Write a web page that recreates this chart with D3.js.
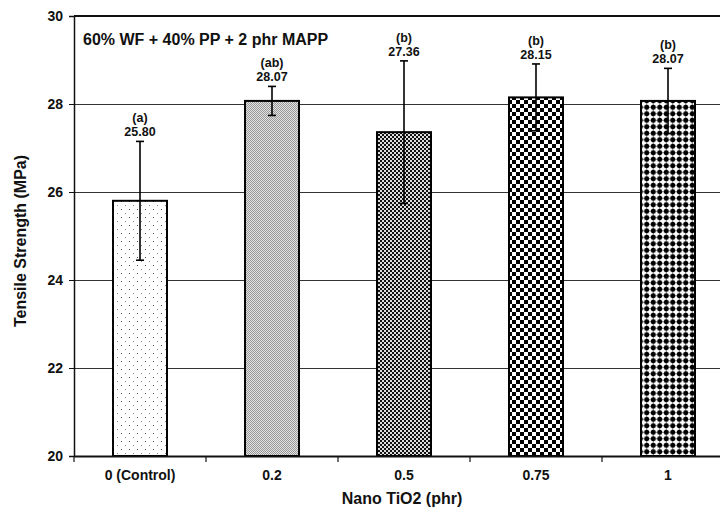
<!DOCTYPE html>
<html>
<head>
<meta charset="utf-8">
<script src="https://cdn.jsdelivr.net/npm/d3@7.9.0/dist/d3.min.js"></script>
<style>
  body { margin: 0; background: #fff; }
  text { font-family: "Liberation Sans", Arial, sans-serif; font-weight: bold; fill: #111; }
</style>
</head>
<body>
<div id="vis"></div>
<script>
const width = 720, height = 510;

const categories = ["0 (Control)", "0.2", "0.5", "0.75", "1"];
const means = [25.80, 28.07, 27.36, 28.15, 28.07];
const errors = [1.35, 0.33, 1.62, 0.76, 0.74];
const groups = ["(a)", "(ab)", "(b)", "(b)", "(b)"];
const yTicks = [20, 22, 24, 26, 28, 30];

const margin = { top: 16, left: 74, bottom: 54 };
const bandW = 132;

const svg = d3.select("#vis").append("svg")
    .attr("width", width)
    .attr("height", height);

const defs = svg.append("defs");

// pattern fills, one per bar
let p = defs.append("pattern").attr("id", "p0").attr("patternUnits", "userSpaceOnUse")
  .attr("width", 8).attr("height", 8);
p.append("rect").attr("width", 8).attr("height", 8).attr("fill", "#fff");
p.append("rect").attr("x", 1).attr("y", 1).attr("width", 1).attr("height", 1).attr("fill", "#444");
p.append("rect").attr("x", 5).attr("y", 5).attr("width", 1).attr("height", 1).attr("fill", "#888");

p = defs.append("pattern").attr("id", "p1").attr("patternUnits", "userSpaceOnUse")
  .attr("width", 2).attr("height", 2);
p.append("rect").attr("width", 2).attr("height", 2).attr("fill", "#e2e2e2");
p.append("rect").attr("width", 1).attr("height", 1).attr("fill", "#999");
p.append("rect").attr("x", 1).attr("y", 1).attr("width", 1).attr("height", 1).attr("fill", "#999");

p = defs.append("pattern").attr("id", "p2").attr("patternUnits", "userSpaceOnUse")
  .attr("width", 4).attr("height", 4);
p.append("rect").attr("width", 4).attr("height", 4).attr("fill", "#ddd");
p.append("rect").attr("width", 2).attr("height", 2).attr("fill", "#111");
p.append("rect").attr("x", 2).attr("y", 2).attr("width", 2).attr("height", 2).attr("fill", "#111");

p = defs.append("pattern").attr("id", "p3").attr("patternUnits", "userSpaceOnUse")
  .attr("width", 8).attr("height", 8);
p.append("rect").attr("width", 8).attr("height", 8).attr("fill", "#fff");
p.append("rect").attr("width", 4).attr("height", 4).attr("fill", "#000");
p.append("rect").attr("x", 4).attr("y", 4).attr("width", 4).attr("height", 4).attr("fill", "#000");

p = defs.append("pattern").attr("id", "p4").attr("patternUnits", "userSpaceOnUse")
  .attr("width", 6.5).attr("height", 6.5);
p.append("rect").attr("width", 6.5).attr("height", 6.5).attr("fill", "#fff");
p.append("path").attr("d", "M0,3.25H6.5M3.25,0V6.5").attr("stroke", "#666").attr("stroke-width", 0.8);
p.append("circle").attr("cx", 3.25).attr("cy", 3.25).attr("r", 2.5).attr("fill", "#000");

const x = d3.scaleBand()
    .domain(categories)
    .range([margin.left, margin.left + bandW * categories.length])
    .paddingInner(0)
    .paddingOuter(0);

const y = d3.scaleLinear()
    .domain([20, 30])
    .range([height - margin.bottom, margin.top]);

const barW = 54;

// gridlines
svg.append("g")
  .selectAll("line")
  .data(yTicks.filter(t => t > 20 && t < 30))
  .enter().append("line")
  .attr("x1", margin.left).attr("x2", width)
  .attr("y1", d => Math.round(y(d)) + 0.5).attr("y2", d => Math.round(y(d)) + 0.5)
  .attr("stroke", "#333").attr("stroke-width", 1);

// top border
svg.append("line")
  .attr("x1", margin.left).attr("x2", width)
  .attr("y1", y(30)).attr("y2", y(30))
  .attr("stroke", "#111").attr("stroke-width", 2);

// bars
svg.append("g")
  .selectAll("rect")
  .data(means)
  .enter().append("rect")
  .attr("x", (d, i) => x(categories[i]) + bandW / 2 - barW / 2)
  .attr("y", d => y(d))
  .attr("width", barW)
  .attr("height", d => y(20) - y(d))
  .attr("fill", (d, i) => `url(#p${i})`)
  .attr("stroke", "#000")
  .attr("stroke-width", 2);

// error bars
const eb = svg.append("g").attr("stroke", "#000").attr("stroke-width", 1.6);
means.forEach((m, i) => {
  const cx = x(categories[i]) + bandW / 2;
  eb.append("line").attr("x1", cx).attr("x2", cx)
    .attr("y1", y(m + errors[i])).attr("y2", y(m - errors[i]));
  [m + errors[i], m - errors[i]].forEach(v => {
    eb.append("line").attr("x1", cx - 4).attr("x2", cx + 4)
      .attr("y1", y(v)).attr("y2", y(v));
  });
});

// labels above error bars
const lab = svg.append("g").attr("text-anchor", "middle").style("font-size", "12.5px");
means.forEach((m, i) => {
  const cx = x(categories[i]) + bandW / 2;
  const top = y(m + errors[i]);
  lab.append("text").attr("x", cx).attr("y", top - 5).text(m.toFixed(2));
  lab.append("text").attr("x", cx).attr("y", top - 19).text(groups[i]);
});

// y axis
const yAxis = svg.append("g")
  .attr("transform", `translate(${margin.left},0)`)
  .call(d3.axisLeft(y).tickValues(yTicks).tickFormat(d3.format("d")).tickSize(5).tickPadding(6));
yAxis.select(".domain").attr("stroke", "#111").attr("stroke-width", 1.5);
yAxis.selectAll(".tick line").attr("stroke", "#111");
yAxis.selectAll("text").style("font-size", "14px").style("font-family", "Liberation Sans, Arial").style("font-weight", "bold").attr("fill", "#111");

// x axis
const xAxis = svg.append("g")
  .attr("transform", `translate(0,${y(20)})`)
  .call(d3.axisBottom(x).tickSize(0).tickPadding(14));
xAxis.select(".domain").attr("stroke", "#111").attr("stroke-width", 2);
xAxis.selectAll("text").style("font-size", "14px").style("font-family", "Liberation Sans, Arial").style("font-weight", "bold").attr("fill", "#111");
xAxis.append("g").selectAll("line")
  .data(categories.map((c, i) => margin.left + bandW * i))
  .enter().append("line")
  .attr("x1", d => d).attr("x2", d => d)
  .attr("y1", 0).attr("y2", 6)
  .attr("stroke", "#111").attr("stroke-width", 1.2);

// titles
svg.append("text")
  .attr("x", 83).attr("y", 45)
  .style("font-size", "16px")
  .text("60% WF + 40% PP + 2 phr MAPP");

svg.append("text")
  .attr("x", 402).attr("y", 504)
  .attr("text-anchor", "middle")
  .style("font-size", "16px")
  .text("Nano TiO2 (phr)");

svg.append("text")
  .attr("transform", `translate(26,${(y(20) + y(30)) / 2 + 5}) rotate(-90)`)
  .attr("text-anchor", "middle")
  .style("font-size", "16px")
  .text("Tensile Strength (MPa)");
</script>
</body>
</html>
